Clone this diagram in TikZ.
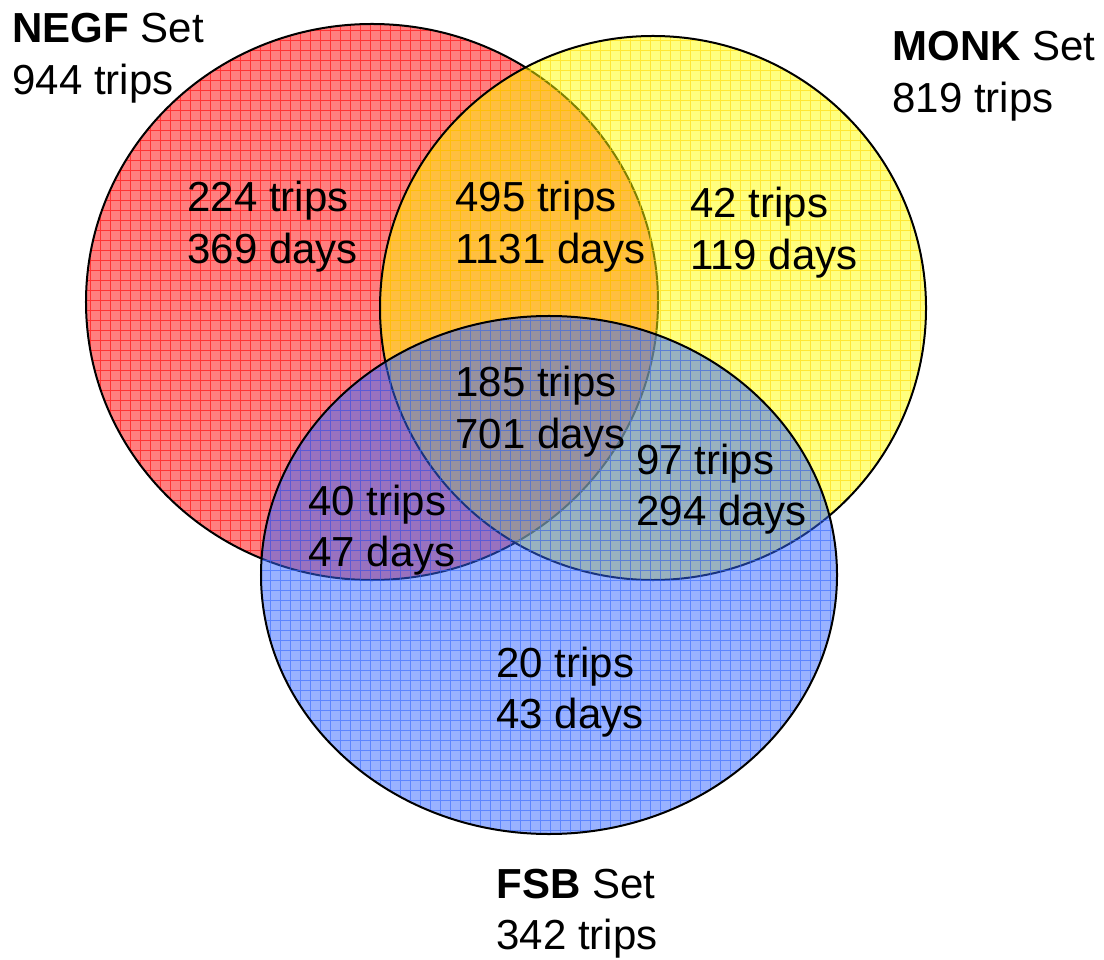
\documentclass[tikz,border=0pt]{standalone}
\usepackage{fontspec}
\setmainfont{Liberation Sans}
\definecolor{negfred}{RGB}{255,0,0}
\definecolor{monkyellow}{RGB}{255,255,0}
\definecolor{monkgrid}{RGB}{255,215,0}
\definecolor{fsbblue}{RGB}{51,102,255}
\newcommand{\twolines}[2]{\begin{tabular}[t]{@{}l@{}}#1\\#2\end{tabular}}

\begin{document}
\begin{tikzpicture}[x=0.2mm,y=-0.2mm,
  lbl/.style={anchor=base west,inner sep=0pt,font=\fontsize{23.9}{29.5}\selectfont}]
  \useasboundingbox (0,0) rectangle (1104,960);
  % Set centres
  \coordinate (negf) at (372,302);
  \coordinate (monk) at (653,308);
  \coordinate (fsb) at (549,575);
  % Sets: fill, grid, outline (later sets lie over earlier ones)
  \foreach \c/\rx/\ry/\col/\gcol in {negf/57.2/55.6/negfred/negfred,
      monk/54.6/54.4/monkyellow/monkgrid, fsb/57.6/51.8/fsbblue/fsbblue}{
    \fill[\col,opacity=0.5] (\c) ellipse [x radius=\rx mm, y radius=\ry mm];
    \begin{scope}
      \clip (\c) ellipse [x radius=\rx mm, y radius=\ry mm];
      \draw[\gcol,opacity=0.6,line width=0.4pt,step=2mm] (0,0) grid (1104,960);
    \end{scope}
    \draw[line width=0.4mm] (\c) ellipse [x radius=\rx mm, y radius=\ry mm];
  }
  % Set names
  \node[lbl] (negflbl) at (12,43) {\twolines{\textbf{NEGF} Set}{944 trips}};
  \node[lbl] (monklbl) at (892,61) {\twolines{\textbf{MONK} Set}{819 trips}};
  \node[lbl] (fsblbl) at (496,898) {\twolines{\textbf{FSB} Set}{342 trips}};
  % Region counts
  \node[lbl] (nonly) at (187,212) {\twolines{224 trips}{369 days}};
  \node[lbl] (nm) at (455,212) {\twolines{495 trips}{1131 days}};
  \node[lbl] (monly) at (690,218) {\twolines{42 trips}{119 days}};
  \node[lbl] (nmf) at (455,397) {\twolines{185 trips}{701 days}};
  \node[lbl] (mf) at (636,474) {\twolines{97 trips}{294 days}};
  \node[lbl] (nf) at (308,515) {\twolines{40 trips}{47 days}};
  \node[lbl] (fonly) at (496,677) {\twolines{20 trips}{43 days}};
\end{tikzpicture}
\end{document}
